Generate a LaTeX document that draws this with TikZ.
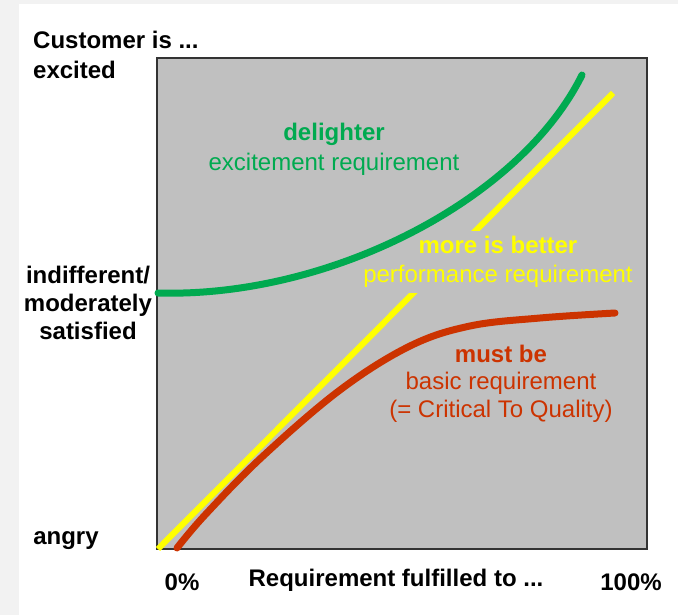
\documentclass[tikz,border=0pt]{standalone}
\usepackage{fontspec}
\setmainfont{Liberation Sans}
\usepackage{tikz}
\usetikzlibrary{positioning}
\definecolor{chartgray}{RGB}{192,192,192}
\definecolor{delightgreen}{RGB}{0,170,80}
\definecolor{moreyellow}{RGB}{255,255,0}
\definecolor{mustred}{RGB}{204,51,0}
\tikzset{
  lbl/.style={font=\fontsize{24}{28}\selectfont\bfseries, text=black, inner sep=0pt},
  typetxt/.style={font=\fontsize{24}{28}\selectfont, inner sep=0pt},
  typebold/.style={font=\fontsize{24}{28}\selectfont\bfseries, inner sep=0pt},
  curve/.style={line width=7pt, line cap=round}
}
\begin{document}
\begin{tikzpicture}[x=1pt,y=-1pt]
   \useasboundingbox (0,0) rectangle (678,615);
   \fill[white] (0,0) rectangle (678,615);
   \fill[black!5] (0,0) rectangle (19,615);
   \fill[black!5] (19,0) rectangle (678,4);

   % the chart area
   \filldraw[fill=chartgray, draw=black!80, line width=2pt] (157,58) rectangle (647,549);

   % yellow line, cut by its labels
   \draw[curve, moreyellow, line width=6pt, line cap=butt] (158,549) -- (613,93);
   \node[typebold, text=moreyellow, fill=chartgray, inner ysep=5pt] (more) at (498,245) {more is better};
   \node[typetxt, text=moreyellow, fill=chartgray, inner ysep=6pt] (perf) at (498,276) {performance requirement};

   % curves
   \draw[curve, delightgreen] (158,293) .. controls (330,298) and (520,200) .. (582,75);
   \draw[curve, mustred] plot[smooth, tension=0.6] coordinates
      {(177,548) (205,515) (262,457) (340,390) (410,346) (470,326) (540,318) (615,313)};

   % axis texts
   \node[lbl, anchor=west] (cust) at (33,40) {Customer is ...};
   \node[lbl, anchor=west] (exc) at (33,70) {excited};
   \node[lbl, align=center] (indiff) at (88,303) {indifferent/\\moderately\\satisfied};
   \node[lbl] (angry) at (66,541) {angry};
   \node[lbl] (zero) at (182,582) {0\%};
   \node[lbl] (req) at (396,580) {Requirement fulfilled to ...};
   \node[lbl] (full) at (631,582) {100\%};

   % curve labels
   \node[typebold, text=delightgreen] (deli) at (334,134) {delighter};
   \node[typetxt, text=delightgreen] (excreq) at (334,164) {excitement requirement};
   \node[typebold, text=mustred] (must) at (501,354) {must be};
   \node[typetxt, text=mustred] (basic) at (501,383) {basic requirement};
   \node[typetxt, text=mustred] (ctq) at (501,411) {(= Critical To Quality)};
\end{tikzpicture}
\end{document}
